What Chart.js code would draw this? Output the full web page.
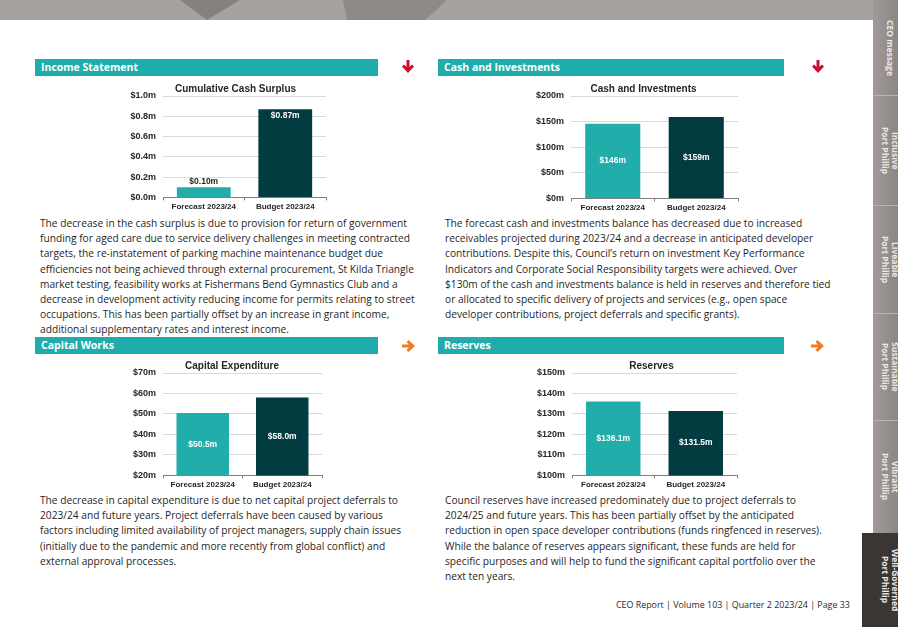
<!DOCTYPE html>
<html>
<head>
<meta charset="utf-8">
<script src="https://cdn.jsdelivr.net/npm/chart.js@4.4.1/dist/chart.umd.min.js"></script>
<style>
  html, body { margin: 0; padding: 0; background: #fff; }
  body { width: 898px; height: 627px; position: relative; overflow: hidden; font-family: 'Open Sans', sans-serif; color: #1f1f1f; }
  .abs { position: absolute; }
  .banner { left: 0; top: 0; width: 873px; height: 20px; background: #a7a29f; }
  .tri1 { left: 0; top: 0; width: 873px; height: 20px; background: #86817d; clip-path: polygon(180px 0, 240px 0, 207px 20px); }
  .tri2 { left: 0; top: 0; width: 873px; height: 20px; background: #8f8a86; clip-path: polygon(343px 0, 447px 0, 425px 20px, 347px 20px); }
  .head { height: 17px; background: #1fadab; color: #fff; font-weight: 700; font-size: 10.5px; line-height: 17px; padding-left: 6px; box-sizing: border-box; }
  .para { font-size: 10.2px; line-height: 15.2px; white-space: nowrap; }
  .box { position: absolute; }
  .tab { position: absolute; left: 873px; width: 25px; background: linear-gradient(to right, #a09b98, #8b8683); border-top: 1px solid #b9b4b1; box-sizing: border-box; overflow: hidden; }
  .tab .lbl { position: absolute; right: -3px; top: 0; height: 100%; width: 22px; writing-mode: vertical-rl; text-align: center; font-weight: 700; font-size: 8.5px; line-height: 9.5px; color: #ece8e5; display: flex; align-items: center; justify-content: center; }
  .footer { left: 616px; top: 598px; font-size: 8.9px; color: #2a2a2a; white-space: nowrap; }
</style>
</head>
<body>
<div class="abs banner"></div>
<div class="abs tri1"></div>
<div class="abs tri2"></div>

<div class="tab" style="top:0;height:96px;border-top:none"><div class="lbl">CEO message</div></div>
<div class="tab" style="top:95px;height:110px"><div class="lbl">Inclusive<br>Port Phillip</div></div>
<div class="tab" style="top:205px;height:108px"><div class="lbl">Liveable<br>Port Phillip</div></div>
<div class="tab" style="top:313px;height:107px"><div class="lbl">Sustainable<br>Port Phillip</div></div>
<div class="tab" style="top:420px;height:113px"><div class="lbl">Vibrant<br>Port Phillip</div></div>
<div class="tab" style="top:533px;left:862px;width:36px;height:94px;background:#3b3633;border-top:none"><div class="lbl">Well-Governed<br>Port Phillip</div></div>

<div class="abs head" style="left:35px;top:59px;width:343px">Income Statement</div>
<div class="abs head" style="left:438px;top:59px;width:346px">Cash and Investments</div>
<div class="abs head" style="left:35px;top:337px;width:343px">Capital Works</div>
<div class="abs head" style="left:438px;top:337px;width:346px">Reserves</div>

<svg class="abs" style="left:401px;top:59px" width="14" height="15" viewBox="0 0 14 15"><path d="M7 14 L1 7.5 L3.2 5.5 L5.5 8 L5.5 1 L8.5 1 L8.5 8 L10.8 5.5 L13 7.5 Z" fill="#c8102e"/></svg>
<svg class="abs" style="left:811px;top:59px" width="14" height="15" viewBox="0 0 14 15"><path d="M7 14 L1 7.5 L3.2 5.5 L5.5 8 L5.5 1 L8.5 1 L8.5 8 L10.8 5.5 L13 7.5 Z" fill="#c8102e"/></svg>
<svg class="abs" style="left:401px;top:339px" width="15" height="14" viewBox="0 0 15 14"><path d="M14 7 L7.5 1 L5.5 3.2 L8 5.5 L1 5.5 L1 8.5 L8 8.5 L5.5 10.8 L7.5 13 Z" fill="#f07b22"/></svg>
<svg class="abs" style="left:810px;top:339px" width="15" height="14" viewBox="0 0 15 14"><path d="M14 7 L7.5 1 L5.5 3.2 L8 5.5 L1 5.5 L1 8.5 L8 8.5 L5.5 10.8 L7.5 13 Z" fill="#f07b22"/></svg>

<div class="box" id="b1"><canvas id="surplusChart"></canvas></div>
<div class="box" id="b2"><canvas id="cashChart"></canvas></div>
<div class="box" id="b3"><canvas id="capexChart"></canvas></div>
<div class="box" id="b4"><canvas id="reservesChart"></canvas></div>

<div class="abs para" style="left:40px;top:216px">The decrease in the cash surplus is due to provision for return of government<br>funding for aged care due to service delivery challenges in meeting contracted<br>targets, the re-instatement of parking machine maintenance budget due<br>efficiencies not being achieved through external procurement, St Kilda Triangle<br>market testing, feasibility works at Fishermans Bend Gymnastics Club and a<br>decrease in development activity reducing income for permits relating to street<br>occupations. This has been partially offset by an increase in grant income,<br>additional supplementary rates and interest income.</div>

<div class="abs para" style="left:445px;top:216px">The forecast cash and investments balance has decreased due to increased<br>receivables projected during 2023/24 and a decrease in anticipated developer<br>contributions. Despite this, Council’s return on investment Key Performance<br>Indicators and Corporate Social Responsibility targets were achieved. Over<br>$130m of the cash and investments balance is held in reserves and therefore tied<br>or allocated to specific delivery of projects and services (e.g., open space<br>developer contributions, project deferrals and specific grants).</div>

<div class="abs para" style="left:40px;top:493px">The decrease in capital expenditure is due to net capital project deferrals to<br>2023/24 and future years. Project deferrals have been caused by various<br>factors including limited availability of project managers, supply chain issues<br>(initially due to the pandemic and more recently from global conflict) and<br>external approval processes.</div>

<div class="abs para" style="left:445px;top:493px">Council reserves have increased predominately due to project deferrals to<br>2024/25 and future years. This has been partially offset by the anticipated<br>reduction in open space developer contributions (funds ringfenced in reserves).<br>While the balance of reserves appears significant, these funds are held for<br>specific purposes and will help to fund the significant capital portfolio over the<br>next ten years.</div>

<div class="abs footer">CEO Report | Volume 103 | Quarter 2 2023/24 | Page 33</div>

<script>
// ── data ────────────────────────────────────────────
const categories = ['Forecast 2023/24', 'Budget 2023/24'];

const surplusValues = [0.10, 0.87];
const surplusLabels = ['$0.10m', '$0.87m'];
const surplusTicks = ['$0.0m', '$0.2m', '$0.4m', '$0.6m', '$0.8m', '$1.0m'];

const cashValues = [146, 159];
const cashLabels = ['$146m', '$159m'];
const cashTicks = ['$0m', '$50m', '$100m', '$150m', '$200m'];

const capexValues = [50.5, 58.0];
const capexLabels = ['$50.5m', '$58.0m'];
const capexTicks = ['$20m', '$30m', '$40m', '$50m', '$60m', '$70m'];

const reserveValues = [136.1, 131.5];
const reserveLabels = ['$136.1m', '$131.5m'];
const reserveTicks = ['$100m', '$110m', '$120m', '$130m', '$140m', '$150m'];

const FONT = '"Liberation Sans", Arial, sans-serif';
const TEAL = '#21aeab';
const DARK = '#023c40';

/* value labels drawn on the bars */
const valueLabels = {
    id: 'valueLabels',
    afterDatasetsDraw(chart, args, opts) {
        const ctx = chart.ctx;
        const meta = chart.getDatasetMeta(0);
        const bottom = chart.chartArea.bottom;
        ctx.save();
        ctx.font = 'bold 8.5px ' + FONT;
        ctx.textAlign = 'center';
        ctx.textBaseline = 'middle';
        meta.data.forEach((bar, i) => {
            const pos = opts.positions[i];
            let y = (bar.y + Math.min(bar.base, bottom)) / 2;
            if (pos === 'above') y = bar.y - 6;
            if (pos === 'top') y = bar.y + 6.5;
            ctx.fillStyle = pos === 'above' ? '#262626' : '#ffffff';
            ctx.fillText(opts.labels[i], bar.x, y);
        });
        ctx.restore();
    }
};

// box: canvas position, y-axis width, and an empty right axis that keeps the title off-centre like the original
function barChart(canvasId, boxId, box, title, values, labels, positions, ticks, yMin, yMax, step) {
    const el = document.getElementById(boxId);
    el.style.left = box.left + 'px';
    el.style.top = box.top + 'px';
    el.style.width = box.width + 'px';
    el.style.height = box.height + 'px';

    return new Chart(document.getElementById(canvasId), {
        type: 'bar',
        data: {
            labels: categories,
            datasets: [{
                data: values,
                backgroundColor: [TEAL, DARK],
                borderWidth: 0,
                barPercentage: 0.66,
                categoryPercentage: 1
            }]
        },
        plugins: [valueLabels],
        options: {
            responsive: true,
            maintainAspectRatio: false,
            animation: false,
            layout: { padding: { left: box.padLeft, right: 0, top: 0, bottom: 0 } },
            plugins: {
                legend: { display: false },
                tooltip: { enabled: false },
                title: {
                    display: true,
                    text: title,
                    color: '#262626',
                    font: { family: FONT, size: 10, weight: 'bold' },
                    padding: { top: 0, bottom: 1 }
                },
                valueLabels: { labels: labels, positions: positions }
            },
            scales: {
                x: {
                    grid: { display: true, drawOnChartArea: false, drawTicks: true, tickLength: 3, color: '#808080' },
                    border: { color: '#808080' },
                    ticks: { padding: 2, color: '#262626', font: { family: FONT, size: 8, weight: 'bold' } }
                },
                y: {
                    min: yMin,
                    max: yMax,
                    afterFit: s => { s.width = box.axisWidth; },
                    grid: { color: '#d9d9d9', drawTicks: false },
                    border: { display: false },
                    ticks: {
                        stepSize: step,
                        padding: 7,
                        color: '#262626',
                        font: { family: FONT, size: 9, weight: 'bold' },
                        callback: (v, i) => ticks[i]
                    }
                },
                yRight: {
                    type: 'linear',
                    position: 'right',
                    afterFit: s => { s.width = box.rightWidth; },
                    grid: { display: false },
                    border: { display: false },
                    ticks: { display: false }
                }
            }
        }
    });
}

barChart('surplusChart', 'b1', { left: 120, top: 83, width: 223, height: 131, padLeft: 8, axisWidth: 35, rightWidth: 17 },
    'Cumulative Cash Surplus', surplusValues, surplusLabels, ['above', 'top'], surplusTicks, 0, 1, 0.2);
barChart('cashChart', 'b2', { left: 525, top: 83, width: 229, height: 132, padLeft: 8, axisWidth: 38, rightWidth: 16 },
    'Cash and Investments', cashValues, cashLabels, ['center', 'center'], cashTicks, 0, 200, 50);
barChart('capexChart', 'b3', { left: 120, top: 360, width: 216, height: 132, padLeft: 8, axisWidth: 35, rightWidth: 14 },
    'Capital Expenditure', capexValues, capexLabels, ['center', 'center'], capexTicks, 20, 70, 10);
barChart('reservesChart', 'b4', { left: 525, top: 360, width: 243, height: 132, padLeft: 10, axisWidth: 37, rightWidth: 31 },
    'Reserves', reserveValues, reserveLabels, ['center', 'center'], reserveTicks, 100, 150, 10);
</script>
</body>
</html>
